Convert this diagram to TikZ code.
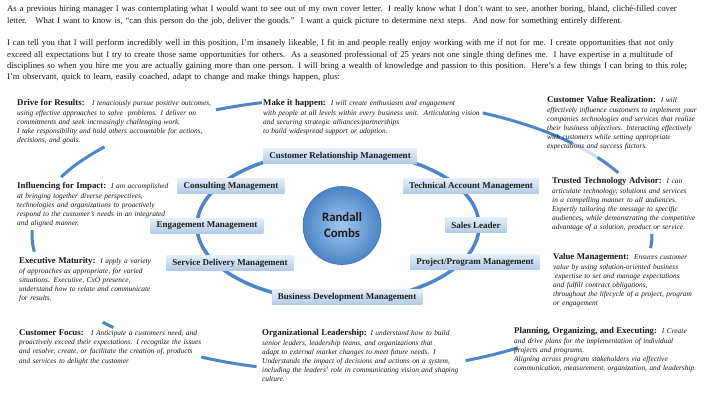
\documentclass[tikz,border=0pt]{standalone}
\usepackage{fontspec}
\setmainfont{Liberation Serif}
\newfontfamily\calibfont{Carlito}
\definecolor{arcblue}{RGB}{76,134,198}
\definecolor{boxtop}{RGB}{230,238,248}
\definecolor{boxbot}{RGB}{178,202,230}
\definecolor{ballin}{RGB}{164,200,238}
\definecolor{ballout}{RGB}{74,133,198}
\definecolor{ballrim}{RGB}{64,112,170}
\definecolor{nametext}{RGB}{22,22,26}
\definecolor{bodytext}{RGB}{25,25,25}
\newcommand\blurbhead[1]{{\fontsize{8.8}{9.2}\selectfont\bfseries\upshape #1}}
\newcommand\ringarc[2]{\draw[ring] (rimc) ++(#1:310 and 137) arc[start angle=#1, end angle=#2, x radius=310, y radius=137];}
\tikzset{
  ring/.style={draw=arcblue, line width=3pt},
  mgmt/.style={top color=boxtop, bottom color=boxbot, font=\fontsize{9}{10}\selectfont\bfseries, text=black!88, inner xsep=6pt, inner ysep=0pt, minimum height=15pt},
  blurb/.style={anchor=north west, inner sep=0pt, align=left, text width=#1, text=bodytext, font=\fontsize{7.4}{9.2}\selectfont\itshape},
  para/.style={anchor=north west, inner sep=0pt, align=left, text width=715pt, text=bodytext, font=\fontsize{8.7}{11.3}\selectfont},
}
\begin{document}
\begin{tikzpicture}[x=1pt,y=-1pt]
\useasboundingbox[fill=white] (0,0) rectangle (720,404);
\coordinate (rimc) at (342,235);
\coordinate (innc) at (338,226);

% top paragraphs
\node[para] (p1) at (7,5.5) {As a previous hiring manager I was contemplating what I would want to see out of my own cover letter.\ \ I really know what I don’t want to see, another boring, bland, cliché-filled cover\\
letter.\ \ \ What I want to know is, “can this person do the job, deliver the goods.”\ \ I want a quick picture to determine next steps.\ \ And now for something entirely different.};
\node[para] (p2) at (7,39.5) {I can tell you that I will perform incredibly well in this position, I’m insanely likeable, I fit in and people really enjoy working with me if not for me. I create opportunities that not only\\
exceed all expectations but I try to create those same opportunities for others.\ \ As a seasoned professional of 25 years not one single thing defines me.\ \ I have expertise in a multitude of\\
disciplines so when you hire me you are actually gaining more than one person. I will bring a wealth of knowledge and passion to this position.\ \ Here’s a few things I can bring to this role;\\
I’m observant, quick to learn, easily coached, adapt to change and make things happen, plus:};

% outer ring pieces
\ringarc{-140}{-155}
\ringarc{-105}{-114}
\ringarc{-42}{-63}
\draw[ring, opacity=0.25] (rimc) ++(-34.5:310 and 137) arc[start angle=-34.5, end angle=-42, x radius=310, y radius=137];
\ringarc{-27}{-34.5}
\ringarc{5.5}{-0.5}
\ringarc{-178}{-187}
\ringarc{-219.5}{-222.5}
\ringarc{-243}{-254}
\ringarc{-293.5}{-304.6}

% inner ring
\draw[ring, line width=3.5pt] (innc) ellipse[x radius=141, y radius=75];

% centre
\node[circle, minimum size=78pt, inner color=ballin, outer color=ballout, draw=ballrim, line width=0.6pt, align=center, text=nametext, font=\calibfont\bfseries\fontsize{12.8}{16}\selectfont] (rc) at (342,225.5) {Randall\\Combs};

% management boxes
\node[mgmt] (crm) at (340,156) {Customer Relationship Management};
\node[mgmt] (cm) at (231,186) {Consulting Management};
\node[mgmt] (tam) at (471,186) {Technical Account Management};
\node[mgmt] (em) at (207,226) {Engagement Management};
\node[mgmt] (sl) at (476,225) {Sales Leader};
\node[mgmt] (sdm) at (230,263) {Service Delivery Management};
\node[mgmt] (ppm) at (475,262) {Project/Program Management};
\node[mgmt] (bdm) at (347,297) {Business Development Management};

% blurbs
\node[blurb=230pt] (dfr) at (17,99.5) {\blurbhead{Drive for Results:}\ \ \ I tenaciously pursue positive outcomes,\\
using effective approaches to solve\ \ problems. I deliver on\\
commitments and seek increasingly challenging work.\\
I take responsibility and hold others accountable for actions,\\
decisions, and goals.};
\node[blurb=230pt] (ifi) at (17,182.5) {\blurbhead{Influencing for Impact:}\ \ I am accomplished\\
at bringing together diverse perspectives,\\
technologies and organizations to proactively\\
respond to the customer’s needs in an integrated\\
and aligned manner.};
\node[blurb=230pt] (exm) at (19,257.5) {\blurbhead{Executive Maturity:}\ \ I apply a variety\\
of approaches as appropriate, for varied\\
situations. Executive, CxO presence,\\
understand how to relate and communicate\\
for results.};
\node[blurb=230pt] (cfo) at (19,329.5) {\blurbhead{Customer Focus:}\ \ \ I Anticipate a customers need, and\\
proactively exceed their expectations. I recognize the issues\\
and resolve, create, or facilitate the creation of, products\\
and services to delight the customer};
\node[blurb=250pt] (mih) at (263,99.5) {\blurbhead{Make it happen:}\ \ I will create enthusiasm and engagement\\
with people at all levels within every business unit.\ \ Articulating vision\\
and securing strategic alliances/partnerships\\
to build widespread support or adoption.};
\node[blurb=200pt] (cvr) at (547,96.5) {\blurbhead{Customer Value Realization:}\ \ I will\\
effectively influence customers to implement your\\
companies technologies and services that realize\\
their business objectives. Interacting effectively\\
with customers while setting appropriate\\
expectations and success factors.};
\node[blurb=200pt] (tta) at (552,177.5) {\blurbhead{Trusted Technology Advisor:}\ \ I can\\
articulate technology, solutions and services\\
in a compelling manner to all audiences.\\
Expertly tailoring the message to specific\\
audiences, while demonstrating the competitive\\
advantage of a solution, product or service.};
\node[blurb=200pt] (vmg) at (553,253.5) {\blurbhead{Value Management:}\ \ Ensures customer\\
value by using solution-oriented business\\
\hspace*{2pt}expertise to set and manage expectations\\
and fulfill contract obligations,\\
throughout the lifecycle of a project, program\\
or engagement};
\node[blurb=250pt] (orl) at (262,329.5) {\blurbhead{Organizational Leadership:} I understand how to build\\
senior leaders, leadership teams, and organizations that\\
adapt to external market changes to meet future needs. I\\
Understands the impact of decisions and actions on a system,\\
including the leaders’ role in communicating vision and shaping\\
culture.};
\node[blurb=210pt] (poe) at (514,327.5) {\blurbhead{Planning, Organizing, and Executing:}\ \ I Create\\
and drive plans for the implementation of individual\\
projects and programs.\\
Aligning across program stakeholders via effective\\
communication, measurement, organization, and leadership.};
\end{tikzpicture}
\end{document}
